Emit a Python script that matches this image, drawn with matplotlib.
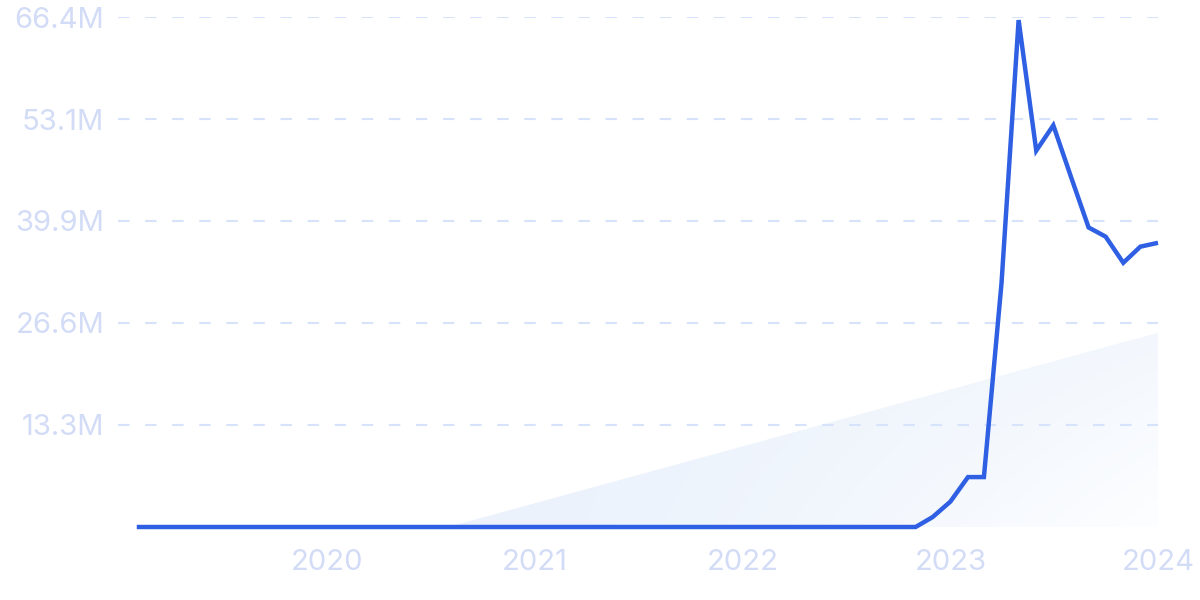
import matplotlib
matplotlib.use("Agg")
import matplotlib.pyplot as plt
import matplotlib.dates as mdates
import numpy as np
import pandas as pd
from matplotlib.patches import Polygon
from matplotlib.colors import LinearSegmentedColormap

# ---- data ----
start_month = "2019-02-01"
end_month = "2024-01-01"
# monthly values in millions; zero until Nov 2022
zeros_count = 46  # Feb 2019 .. Nov 2022
late_values = [1.3, 3.3, 6.5, 6.5, 31.8, 66.0, 49.0, 52.3, 45.6, 39.0, 37.8, 34.4, 36.5, 37.0]  # Dec 2022 .. Jan 2024
values_m = [0.0] * zeros_count + late_values

trend_dates = ["2020-08-01", "2024-01-01"]
trend_values_m = [0.0, 25.3]

y_ticks_m = [13.3, 26.6, 39.9, 53.1, 66.4]
y_tick_labels = ["13.3M", "26.6M", "39.9M", "53.1M", "66.4M"]
x_tick_years = ["2020", "2021", "2022", "2023", "2024"]

dates = pd.date_range(start_month, end_month, freq="MS")
values = np.array(values_m) * 1e6

plt.rcParams['font.family'] = ['Inter', 'DejaVu Sans']

fig = plt.figure(figsize=(12, 6), dpi=100)
ax = fig.add_axes([118 / 1200, 1 - 527 / 600, (1158 - 118) / 1200, (527 - 17) / 600])

tick_color = "#d3dcf6"
line_color = "#2f5fe3"

# trend gradient area
td = mdates.date2num(pd.to_datetime(trend_dates))
tv = np.array(trend_values_m) * 1e6
poly = Polygon([(td[0], tv[0]), (td[1], tv[1]), (td[1], 0)], closed=True,
               facecolor="none", edgecolor="none")
ax.add_patch(poly)
u = np.linspace(0, 1, 256)
vv = np.linspace(0, 1, 256)
U, V = np.meshgrid(u, vv)
grad = U ** 1.5 * (0.45 + 0.55 * (1 - V))
cmap = LinearSegmentedColormap.from_list("g", ["#ebf2fc", "#fdfeff"])
im = ax.imshow(grad, extent=[td[0], td[1], 0, tv[1]], aspect="auto", cmap=cmap,
               origin="lower", zorder=1, interpolation="bilinear", vmin=0, vmax=1)
im.set_clip_path(poly)

ax.plot(mdates.date2num(dates), values, color=line_color, lw=3.2, zorder=3,
        solid_joinstyle="miter", solid_capstyle="butt", clip_on=False)

ax.set_ylim(0, 66.4e6)
left = mdates.date2num(pd.Timestamp(start_month)) - 33
ax.set_xlim(left, mdates.date2num(pd.Timestamp(end_month)))

ax.set_yticks(np.array(y_ticks_m) * 1e6)
ax.set_yticklabels(y_tick_labels)
ax.set_xticks(mdates.date2num(pd.to_datetime([y + "-01-01" for y in x_tick_years])))
ax.set_xticklabels(x_tick_years)

ax.tick_params(axis="both", length=0, colors=tick_color, labelsize=21)
ax.tick_params(axis="y", pad=10)
ax.tick_params(axis="x", pad=16)

ax.set_axisbelow(False)
ax.yaxis.grid(True, color="#d6e3fb", linestyle=(0, (5.5, 7.5)), linewidth=1.5)
for gl in ax.get_ygridlines():
    gl.set_zorder(2)
for s in ax.spines.values():
    s.set_visible(False)

fig.savefig("out.png", dpi=100)
